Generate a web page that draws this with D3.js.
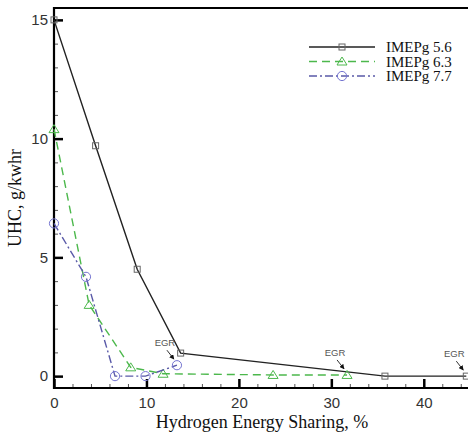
<!DOCTYPE html>
<html>
<head>
<meta charset="utf-8">
<script src="https://cdn.jsdelivr.net/npm/d3@7"></script>
<style>
  html, body { margin: 0; padding: 0; background: #fff; }
  svg { display: block; }
</style>
</head>
<body>
<svg id="chart" width="468" height="437"></svg>
<script>
// Hydrogen energy share (%) vs unburned hydrocarbons (g/kWh) at three loads
const seriesNames = ["IMEPg 5.6", "IMEPg 6.3", "IMEPg 7.7"];
const share56 = [0, 4.5, 9.0, 13.7, 35.8, 44.6];
const uhc56   = [15.0, 9.7, 4.5, 0.97, 0.0, 0.0];
const share63 = [0, 3.8, 8.3, 11.8, 23.7, 31.7];
const uhc63   = [10.4, 3.0, 0.37, 0.1, 0.05, 0.05];
const share77 = [0, 3.46, 6.6, 9.9, 13.3];
const uhc77   = [6.43, 4.18, 0.0, 0.0, 0.46];
const xMajorTicks = [0, 10, 20, 30, 40];
const yMajorTicks = [0, 5, 10, 15];
const egrLabel = "EGR";
// points marked as EGR runs: [series index, point index]
const egrPoints = [[2, 4], [1, 5], [0, 5]];

const svg = d3.select("#chart");
const plotLeft = 54, plotRight = 470, plotTop = 8, plotBottom = 388;
const x = d3.scaleLinear().domain([0, 45]).range([plotLeft, plotRight]);
const y = d3.scaleLinear().domain([-0.5, 15.5]).range([plotBottom, plotTop]);

const series = [
  { name: seriesNames[0], xs: share56, ys: uhc56, color: "#222", marker: "#666", dash: null, shape: "square" },
  { name: seriesNames[1], xs: share63, ys: uhc63, color: "#4cb84c", marker: "#4cb84c", dash: "8,5", shape: "triangle" },
  { name: seriesNames[2], xs: share77, ys: uhc77, color: "#5a5aa8", marker: "#7474d0", dash: "8,3,2,3", shape: "circle" }
];

// minor ticks
svg.append("g").attr("transform", `translate(0,${plotBottom})`)
  .call(d3.axisBottom(x).tickValues(d3.range(0, 46, 2)).tickSize(-4).tickFormat(""))
  .call(g => g.select(".domain").remove())
  .call(g => g.selectAll("line").attr("stroke", "#555").attr("stroke-width", 1));
svg.append("g").attr("transform", `translate(${plotLeft},0)`)
  .call(d3.axisLeft(y).tickValues(d3.range(0, 16, 1)).tickSize(-4).tickFormat(""))
  .call(g => g.select(".domain").remove())
  .call(g => g.selectAll("line").attr("stroke", "#555").attr("stroke-width", 1));

// major ticks and labels
svg.append("g").attr("transform", `translate(0,${plotBottom})`)
  .call(d3.axisBottom(x).tickValues(xMajorTicks).tickSize(-9).tickPadding(6))
  .call(g => g.select(".domain").remove())
  .call(g => g.selectAll("line").attr("stroke", "#000").attr("stroke-width", 2.5))
  .call(g => g.selectAll("text").attr("font-family", "Liberation Sans, Arial, sans-serif")
    .attr("font-size", 15).attr("fill", "#333").attr("dy", "0.95em"));
svg.append("g").attr("transform", `translate(${plotLeft},0)`)
  .call(d3.axisLeft(y).tickValues(yMajorTicks).tickSize(-9).tickPadding(6))
  .call(g => g.select(".domain").remove())
  .call(g => g.selectAll("line").attr("stroke", "#000").attr("stroke-width", 2.5))
  .call(g => g.selectAll("text").attr("font-family", "Liberation Sans, Arial, sans-serif")
    .attr("font-size", 15).attr("fill", "#333"));

// frame
svg.append("path")
  .attr("d", `M${plotRight},${plotTop}H${plotLeft}V${plotBottom}H${plotRight}`)
  .attr("fill", "none").attr("stroke", "#000").attr("stroke-width", 2.2);

// series lines
const line = d3.line().x(d => x(d[0])).y(d => y(d[1]));
function drawMarker(g, shape, stroke) {
  if (shape === "square") {
    g.append("rect").attr("x", -3).attr("y", -3).attr("width", 6).attr("height", 6)
      .attr("fill", "none").attr("stroke", stroke).attr("stroke-width", 1);
  } else if (shape === "triangle") {
    g.append("path").attr("d", "M0,-4.5L5,3.5L-5,3.5Z")
      .attr("fill", "none").attr("stroke", stroke).attr("stroke-width", 1);
  } else {
    g.append("circle").attr("r", 4.6)
      .attr("fill", "none").attr("stroke", stroke).attr("stroke-width", 1);
  }
}
series.forEach(s => {
  const pts = s.xs.map((v, i) => [v, s.ys[i]]);
  svg.append("path").datum(pts).attr("d", line)
    .attr("fill", "none").attr("stroke", s.color).attr("stroke-width", 1.4)
    .attr("stroke-dasharray", s.dash);
  pts.forEach(p => {
    const g = svg.append("g").attr("transform", `translate(${x(p[0])},${y(p[1])})`);
    drawMarker(g, s.shape, s.marker);
  });
});

// EGR call-outs
svg.append("defs").append("marker")
  .attr("id", "arrowhead").attr("viewBox", "0 0 10 10").attr("refX", 9).attr("refY", 5)
  .attr("markerWidth", 5).attr("markerHeight", 5).attr("orient", "auto")
  .append("path").attr("d", "M0,0L10,5L0,10Z").attr("fill", "#111");
egrPoints.forEach(([si, pi]) => {
  const s = series[si];
  const px = x(s.xs[pi]), py = y(s.ys[pi]);
  svg.append("text").attr("x", px - 12).attr("y", py - 19)
    .attr("text-anchor", "middle")
    .attr("font-family", "Liberation Sans, Arial, sans-serif")
    .attr("font-size", 9.5).attr("fill", "#555").text(egrLabel);
  svg.append("line")
    .attr("x1", px - 10).attr("y1", py - 15).attr("x2", px - 3).attr("y2", py - 6)
    .attr("stroke", "#333").attr("stroke-width", 1).attr("marker-end", "url(#arrowhead)");
});

// legend
const legend = svg.append("g");
series.forEach((s, i) => {
  const ly = 47 + i * 14.5;
  legend.append("line").attr("x1", 309).attr("x2", 375).attr("y1", ly).attr("y2", ly)
    .attr("stroke", s.color).attr("stroke-width", 1.4).attr("stroke-dasharray", s.dash);
  const g = legend.append("g").attr("transform", `translate(342,${ly})`);
  drawMarker(g, s.shape, s.marker);
  legend.append("text").attr("x", 386).attr("y", ly + 5)
    .attr("font-family", "Liberation Serif, Times New Roman, serif")
    .attr("font-size", 15).attr("fill", "#111").text(s.name);
});

// axis titles
svg.append("text").attr("x", (plotLeft + plotRight) / 2).attr("y", 428)
  .attr("text-anchor", "middle")
  .attr("font-family", "Liberation Serif, Times New Roman, serif")
  .attr("font-size", 18).attr("fill", "#111").text("Hydrogen Energy Sharing, %");
svg.append("text")
  .attr("transform", `translate(21,${(plotTop + plotBottom) / 2}) rotate(-90)`)
  .attr("text-anchor", "middle")
  .attr("font-family", "Liberation Serif, Times New Roman, serif")
  .attr("font-size", 18).attr("fill", "#111").text("UHC, g/kwhr");
</script>
</body>
</html>
